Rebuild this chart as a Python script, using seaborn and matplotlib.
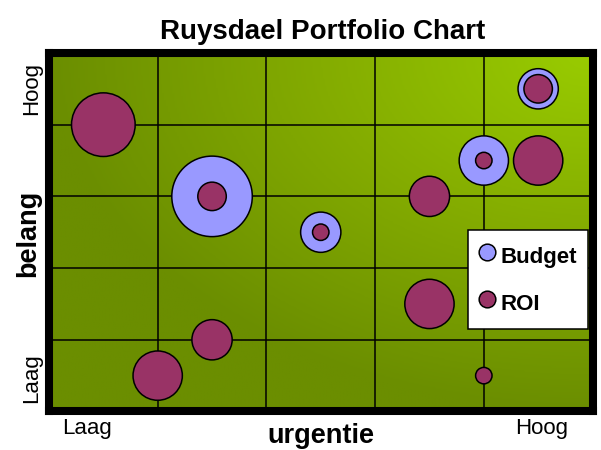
import numpy as np
import pandas as pd
import matplotlib.pyplot as plt
import seaborn as sns
from matplotlib.colors import LinearSegmentedColormap
from matplotlib.lines import Line2D

# Projects: place on the grid (urgentie, belang) plus bubble values
urgentie = [0.5, 1.5, 2.5, 3.5, 4.0, 4.5, 4.5, 3.5, 1.5, 1.0, 4.0]
belang = [4.0, 3.0, 2.5, 3.0, 3.5, 3.5, 4.5, 1.5, 1.0, 0.5, 0.5]
budget = [np.nan, 24, 6, np.nan, 9, np.nan, 6, np.nan, np.nan, np.nan, np.nan]
roi = [15, 3, 1, 6, 1, 9, 3, 9, 6, 9, 1]

x_labels = ['Laag', 'Hoog']
y_labels = ['Laag', 'Hoog']
series = ['Budget', 'ROI']
colors = {'Budget': '#9999FF', 'ROI': '#993366'}

# Long table, budget first so ROI bubbles sit on top
df_budget = pd.DataFrame({'urgentie': urgentie, 'belang': belang, 'waarde': budget, 'soort': 'Budget'}).dropna()
df_roi = pd.DataFrame({'urgentie': urgentie, 'belang': belang, 'waarde': roi, 'soort': 'ROI'})
df = pd.concat([df_budget, df_roi], ignore_index=True)
df['waarde'] = df['waarde'].astype(float)

sns.set_style("white")
plt.rcParams['font.family'] = ['Liberation Sans', 'DejaVu Sans']
plt.rcParams['text.color'] = 'black'
plt.rcParams['xtick.color'] = 'black'
plt.rcParams['ytick.color'] = 'black'

fig = plt.figure(figsize=(6.01, 4.5), dpi=100)
ax = fig.add_axes([0.0815, 0.0856, 0.9044, 0.7967])

# Green background, brightest in the top-right corner
u, v = np.meshgrid(np.linspace(0, 1, 300), np.linspace(0, 1, 300))
t = np.clip(np.sqrt((1 - u) ** 2 + (1 - v) ** 2), 0, 1)
green = LinearSegmentedColormap.from_list('green', ['#99CC00', '#84AC00', '#6B8E00'])
ax.imshow(t, extent=(0, 5, 0, 5), origin='lower', aspect='auto', cmap=green,
          vmin=0, vmax=1, zorder=0, interpolation='bilinear')

k = 140  # marker area (pt^2) per unit
sizes = {w: w * k for w in df['waarde'].unique()}
sns.scatterplot(data=df, x='urgentie', y='belang', hue='soort', size='waarde',
                sizes=sizes, palette=colors, edgecolor='black', linewidth=1.1,
                alpha=1, legend=False, ax=ax, zorder=3)

ax.set_xlim(0, 5)
ax.set_ylim(0, 5)
ax.set_xlabel('')
ax.set_ylabel('')

# grid on minor ticks, labels on major ticks
ax.set_xticks([1, 2, 3, 4], minor=True)
ax.set_yticks([1, 2, 3, 4], minor=True)
ax.grid(which='minor', color='black', linewidth=1.1)
ax.grid(which='major', visible=False)
ax.set_xticks([0.35, 4.53])
ax.set_xticklabels(x_labels)
ax.set_yticks([0.47, 4.51])
ax.set_yticklabels(y_labels, rotation=90, va='center')
ax.tick_params(which='both', length=0, labelsize=16, pad=5, labelcolor='black')

for s in ax.spines.values():
    s.set_visible(True)
    s.set_color('black')
    s.set_linewidth(5.8)

handles = [Line2D([], [], marker='o', linestyle='', markerfacecolor=colors[s],
                  markeredgecolor='black', markeredgewidth=1.1, markersize=12)
           for s in series]
leg = ax.legend(handles, series, loc='upper left', bbox_to_anchor=(0.770, 0.507),
                borderaxespad=0, frameon=True, fancybox=False, framealpha=1,
                edgecolor='black', prop={'weight': 'bold', 'size': 16},
                handlelength=0.75, handleheight=1.7, handletextpad=0.25,
                labelspacing=0.75, borderpad=0.5, labelcolor='black')
leg.get_frame().set_linewidth(1.1)
leg.set_zorder(5)

fig.text(0.536, 0.9144, 'Ruysdael Portfolio Chart', ha='center', va='baseline',
         fontsize=20, fontweight='bold', color='black')
fig.text(0.534, 0.0156, 'urgentie', ha='center', va='baseline', fontsize=19.5,
         fontweight='bold', color='black')
fig.text(0.0466, 0.482, 'belang', rotation=90, ha='center', va='center', fontsize=19.5,
         fontweight='bold', color='black')

plt.savefig('out.png', dpi=100)
